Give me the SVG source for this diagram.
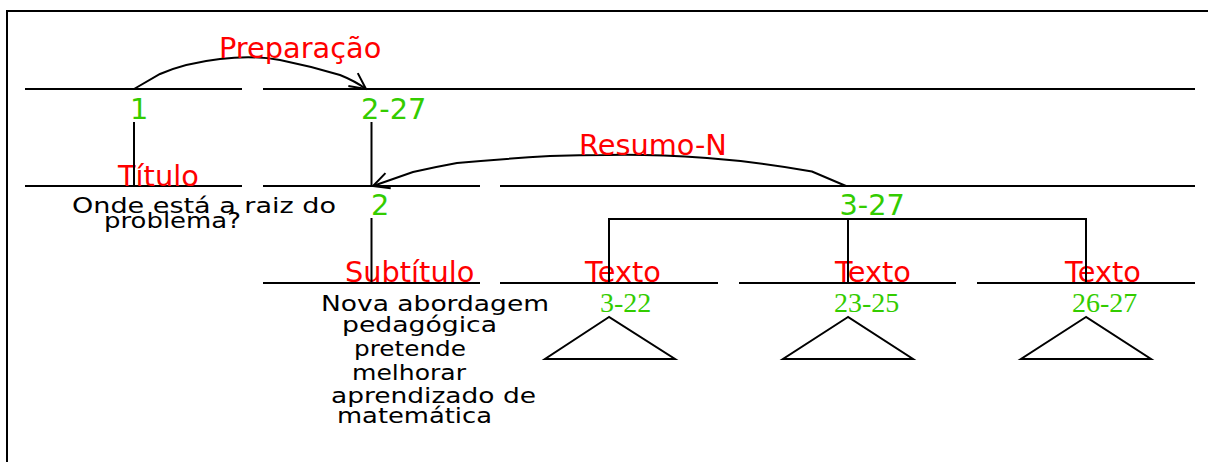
<svg xmlns="http://www.w3.org/2000/svg" width="1208" height="462" viewBox="0 0 1208 462">
<defs>
<style>
.ln{stroke:#000;stroke-width:2;fill:none}
.red{font-family:"DejaVu Sans",sans-serif;font-size:28.8px;fill:#ff0000}
.grn{font-family:"DejaVu Sans",sans-serif;font-size:28.8px;fill:#33cc00}
.grs{font-family:"Liberation Serif",serif;font-size:28px;fill:#33cc00}
.blk{font-family:"DejaVu Sans",sans-serif;font-size:22px;fill:#000}
</style>
<marker id="arr" viewBox="0 0 20 20" refX="18" refY="10" markerWidth="20" markerHeight="20" markerUnits="userSpaceOnUse" orient="auto">
<path d="M2,2 L18,10 L2,18" fill="none" stroke="#000" stroke-width="2"/>
</marker>
</defs>
<rect width="1208" height="462" fill="#fff"/>
<rect x="7" y="11" width="1300" height="500" fill="none" stroke="#000" stroke-width="2"/>

<g id="node-1">
<line class="ln" x1="25" y1="89" x2="242" y2="89"/>
<text class="grn" x="130" y="118.5">1</text>
</g>
<g id="node-2-27">
<line class="ln" x1="263" y1="89" x2="1195" y2="89"/>
<text class="grn" x="361" y="119">2-27</text>
</g>
<g id="node-titulo">
<line class="ln" x1="25" y1="186" x2="242" y2="186"/>
<text class="red" x="118" y="186">Título</text>
<text class="blk" x="72" y="213" textLength="264" lengthAdjust="spacingAndGlyphs">Onde está a raiz do</text>
<text class="blk" x="104" y="228" textLength="137" lengthAdjust="spacingAndGlyphs">problema?</text>
</g>
<g id="node-2">
<line class="ln" x1="263" y1="186" x2="480" y2="186"/>
<text class="grn" x="371" y="215">2</text>
</g>
<g id="node-3-27">
<line class="ln" x1="500" y1="186" x2="1195" y2="186"/>
<text class="grn" x="839.5" y="215">3-27</text>
</g>
<g id="node-subtitulo">
<line class="ln" x1="263" y1="283" x2="480" y2="283"/>
<text class="red" x="345" y="282">Subtítulo</text>
<text class="blk" x="321" y="311" textLength="228" lengthAdjust="spacingAndGlyphs">Nova abordagem</text>
<text class="blk" x="342" y="332" textLength="155" lengthAdjust="spacingAndGlyphs">pedagógica</text>
<text class="blk" x="354" y="356" textLength="112" lengthAdjust="spacingAndGlyphs">pretende</text>
<text class="blk" x="352" y="380" textLength="114" lengthAdjust="spacingAndGlyphs">melhorar</text>
<text class="blk" x="331" y="403" textLength="205" lengthAdjust="spacingAndGlyphs">aprendizado de</text>
<text class="blk" x="337" y="423" textLength="155" lengthAdjust="spacingAndGlyphs">matemática</text>
</g>
<g id="node-texto-1">
<line class="ln" x1="500" y1="283" x2="718" y2="283"/>
<text class="red" x="585" y="282">Texto</text>
<text class="grs" x="600" y="311.5">3-22</text>
<polygon class="ln" points="609,317 545,359 675,359"/>
</g>
<g id="node-texto-2">
<line class="ln" x1="739" y1="283" x2="956" y2="283"/>
<text class="red" x="835" y="282">Texto</text>
<text class="grs" x="834" y="311.5">23-25</text>
<polygon class="ln" points="848,317 783,359 913,359"/>
</g>
<g id="node-texto-3">
<line class="ln" x1="977" y1="283" x2="1195" y2="283"/>
<text class="red" x="1065" y="282">Texto</text>
<text class="grs" x="1072" y="311.5">26-27</text>
<polygon class="ln" points="1086,317 1021,359 1151,359"/>
</g>

<g id="connectors">
<line class="ln" x1="134" y1="122" x2="134" y2="186"/>
<line class="ln" x1="371.5" y1="122" x2="371.5" y2="186"/>
<line class="ln" x1="371.5" y1="218" x2="371.5" y2="283"/>
<polyline class="ln" points="609,283 609,219 1086,219 1086,283"/>
<line class="ln" x1="848" y1="219" x2="848" y2="283"/>
<path class="ln" d="M134,89 L160,74 Q185,63 220,59 Q253,55 280,60 Q310,66 340,75 Q355,81 366,89" marker-end="url(#arr)"/>
<path class="ln" d="M846,186 L812,171.5 Q760,162 707,158 Q650,154 607,155 Q580,155 550,156 Q500,159 457,163 Q435,167 413,172 L373,186" marker-end="url(#arr)"/>
<text class="red" x="219" y="58">Preparação</text>
<text class="red" x="579" y="155">Resumo-N</text>
</g>
</svg>
